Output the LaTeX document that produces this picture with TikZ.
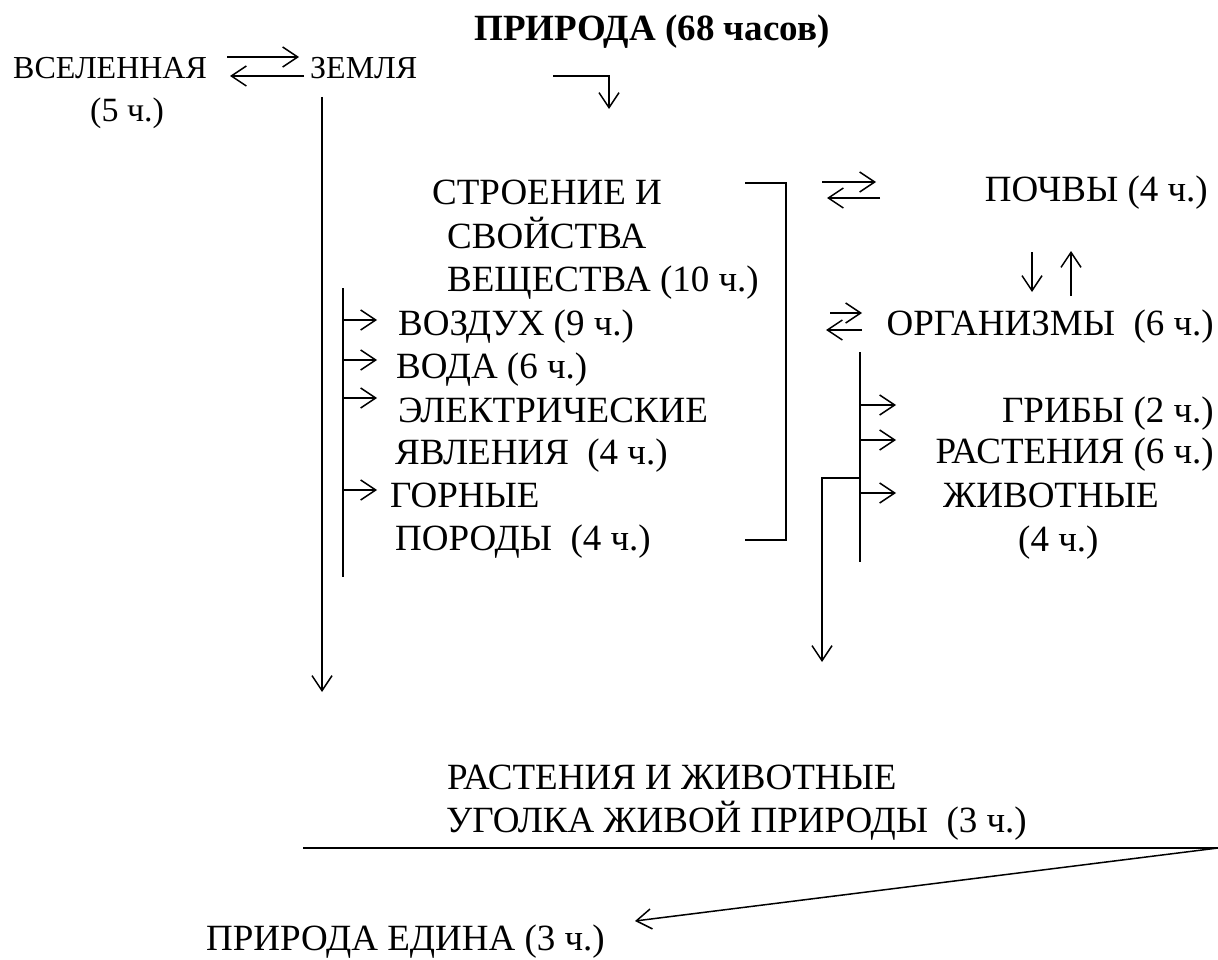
\documentclass[tikz,border=0pt]{standalone}
\usepackage{fontspec}
\setmainfont{Liberation Serif}
\usetikzlibrary{arrows.meta}
\begin{document}
\begin{tikzpicture}[x=1pt,y=-1pt,
  txt/.style={inner sep=0pt, font=\fontsize{37}{43}\selectfont, anchor=base west},
  txts/.style={txt, font=\fontsize{32}{38}\selectfont},
  txtr/.style={txt, anchor=base east},
  ttl/.style={inner sep=0pt, font=\fontsize{37}{43}\selectfont\bfseries, anchor=base},
  ln/.style={line width=1.5pt},
  arr/.style={ln, -{Straight Barb[length=15pt,width=20pt,line width=1.5pt]}}]
\useasboundingbox[fill=white] (0,0) rectangle (1218,960);

% texts
\node[ttl] (title) at (652,41) {ПРИРОДА (68 часов)};
\node[txts] (vsel) at (13,79) {ВСЕЛЕННАЯ};
\node[txts,font=\fontsize{34}{40}\selectfont] (vsel2) at (90,122) {(5 ч.)};
\node[txts] (zem) at (310,79) {ЗЕМЛЯ};
\node[txt] (str1) at (432,205) {СТРОЕНИЕ И};
\node[txt] (str2) at (447,248) {СВОЙСТВА};
\node[txt] (str3) at (447,291) {ВЕЩЕСТВА (10 ч.)};
\node[txtr] (poch) at (1208,202) {ПОЧВЫ (4 ч.)};
\node[txtr] (org) at (1214,335) {ОРГАНИЗМЫ\ \ (6 ч.)};
\node[txt] (vozd) at (398,335) {ВОЗДУХ (9 ч.)};
\node[txt] (voda) at (396,378) {ВОДА (6 ч.)};
\node[txt] (el1) at (398,422) {ЭЛЕКТРИЧЕСКИЕ};
\node[txt] (el2) at (395,464) {ЯВЛЕНИЯ\ \ (4 ч.)};
\node[txt] (gor1) at (390,507) {ГОРНЫЕ};
\node[txt] (gor2) at (395,550) {ПОРОДЫ\ \ (4 ч.)};
\node[txtr] (grib) at (1214,422) {ГРИБЫ (2 ч.)};
\node[txtr] (rast) at (1214,463) {РАСТЕНИЯ (6 ч.)};
\node[txt] (zhiv1) at (943,507) {ЖИВОТНЫЕ};
\node[txt] (zhiv2) at (1018,551) {(4 ч.)};
\node[txt] (ug1) at (447,789) {РАСТЕНИЯ И ЖИВОТНЫЕ};
\node[txt] (ug2) at (446,832) {УГОЛКА ЖИВОЙ ПРИРОДЫ\ \ (3 ч.)};
\node[txt] (edin) at (206,950) {ПРИРОДА ЕДИНА (3 ч.)};

% coordinates
\coordinate (a1s) at (227,57); \coordinate (a1e) at (299,57);
\coordinate (a2s) at (304,76); \coordinate (a2e) at (230,76);
\coordinate (zt) at (322,97); \coordinate (zb) at (322,692);
\coordinate (c1) at (553,76); \coordinate (c2) at (609,76); \coordinate (c3) at (609,109);
\coordinate (b1) at (745,183); \coordinate (b2) at (786,183);
\coordinate (b3) at (786,540); \coordinate (b4) at (745,540);
\coordinate (p1s) at (822,182); \coordinate (p1e) at (876,182);
\coordinate (p2s) at (880,198); \coordinate (p2e) at (827,198);
\coordinate (d1s) at (1032,252); \coordinate (d1e) at (1032,292);
\coordinate (u1s) at (1071,296); \coordinate (u1e) at (1071,251);
\coordinate (o1s) at (830,313); \coordinate (o1e) at (862,313);
\coordinate (o2s) at (862,330); \coordinate (o2e) at (826,330);
\coordinate (lt) at (343,288); \coordinate (lb) at (343,577);
\coordinate (la1) at (343,320); \coordinate (la1e) at (377,320);
\coordinate (la2) at (343,360); \coordinate (la2e) at (377,360);
\coordinate (la3) at (343,398); \coordinate (la3e) at (377,398);
\coordinate (la4) at (343,490); \coordinate (la4e) at (377,490);
\coordinate (rt) at (860,352); \coordinate (rb) at (860,562);
\coordinate (ra1) at (860,405); \coordinate (ra1e) at (896,405);
\coordinate (ra2) at (860,440); \coordinate (ra2e) at (896,440);
\coordinate (ra3) at (860,493); \coordinate (ra3e) at (896,493);
\coordinate (br1) at (860,478); \coordinate (br2) at (822,478); \coordinate (br3) at (822,662);
\coordinate (h1) at (303,848); \coordinate (h2) at (1218,848);
\coordinate (dg) at (635,921);

% connectors
\draw[arr] (a1s) -- (a1e);
\draw[arr] (a2s) -- (a2e);
\draw[arr] (zt) -- (zb);
\draw[arr] (c1) -- (c2) -- (c3);
\draw[ln] (b1) -- (b2) -- (b3) -- (b4);
\draw[arr] (p1s) -- (p1e);
\draw[arr] (p2s) -- (p2e);
\draw[arr] (d1s) -- (d1e);
\draw[arr] (u1s) -- (u1e);
\draw[arr] (o1s) -- (o1e);
\draw[arr] (o2s) -- (o2e);
\draw[ln] (lt) -- (lb);
\draw[arr] (la1) -- (la1e);
\draw[arr] (la2) -- (la2e);
\draw[arr] (la3) -- (la3e);
\draw[arr] (la4) -- (la4e);
\draw[ln] (rt) -- (rb);
\draw[arr] (ra1) -- (ra1e);
\draw[arr] (ra2) -- (ra2e);
\draw[arr] (ra3) -- (ra3e);
\draw[arr] (br1) -- (br2) -- (br3);
\draw[ln] (h1) -- (h2);
\draw[arr] (h2) -- (dg);
\end{tikzpicture}
\end{document}
